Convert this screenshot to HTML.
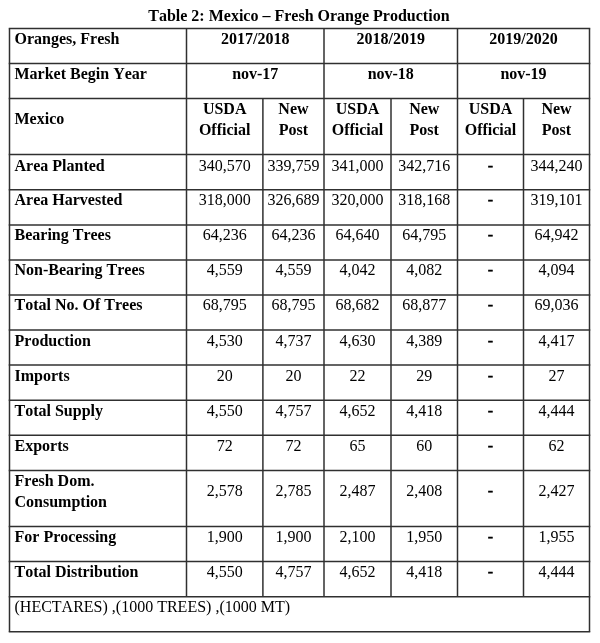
<!DOCTYPE html>
<html><head><meta charset="utf-8"><title>Table 2: Mexico – Fresh Orange Production</title>
<style>
html,body{margin:0;padding:0;background:#fff;}
body{width:600px;height:643px;overflow:hidden;}
svg{display:block;filter:grayscale(1) blur(0.3px);}
text{font-family:"Liberation Serif","Times New Roman",serif;font-size:16px;fill:#000;font-kerning:none;}
</style></head><body>
<svg width="600" height="643" viewBox="0 0 600 643">
<g stroke="#303030" stroke-width="1.5" fill="none"><line x1="8.75" y1="28.50" x2="590.25" y2="28.50"/><line x1="8.75" y1="63.50" x2="590.25" y2="63.50"/><line x1="8.75" y1="98.50" x2="590.25" y2="98.50"/><line x1="8.75" y1="154.50" x2="590.25" y2="154.50"/><line x1="8.75" y1="189.80" x2="590.25" y2="189.80"/><line x1="8.75" y1="224.90" x2="590.25" y2="224.90"/><line x1="8.75" y1="260.00" x2="590.25" y2="260.00"/><line x1="8.75" y1="295.00" x2="590.25" y2="295.00"/><line x1="8.75" y1="330.10" x2="590.25" y2="330.10"/><line x1="8.75" y1="365.10" x2="590.25" y2="365.10"/><line x1="8.75" y1="400.20" x2="590.25" y2="400.20"/><line x1="8.75" y1="435.30" x2="590.25" y2="435.30"/><line x1="8.75" y1="470.40" x2="590.25" y2="470.40"/><line x1="8.75" y1="526.60" x2="590.25" y2="526.60"/><line x1="8.75" y1="561.60" x2="590.25" y2="561.60"/><line x1="8.75" y1="596.80" x2="590.25" y2="596.80"/><line x1="8.75" y1="631.80" x2="590.25" y2="631.80"/><line x1="9.50" y1="28.50" x2="9.50" y2="631.80"/><line x1="186.50" y1="28.50" x2="186.50" y2="596.80"/><line x1="262.90" y1="98.50" x2="262.90" y2="596.80"/><line x1="324.00" y1="28.50" x2="324.00" y2="596.80"/><line x1="391.00" y1="98.50" x2="391.00" y2="596.80"/><line x1="457.50" y1="28.50" x2="457.50" y2="596.80"/><line x1="523.50" y1="98.50" x2="523.50" y2="596.80"/><line x1="589.50" y1="28.50" x2="589.50" y2="631.80"/></g>
<g><text x="298.90" y="21.00" font-weight="bold" text-anchor="middle">Table 2: Mexico – Fresh Orange Production</text><text x="14.50" y="43.80" font-weight="bold">Oranges, Fresh</text><text x="255.25" y="43.80" font-weight="bold" text-anchor="middle">2017/2018</text><text x="390.75" y="43.80" font-weight="bold" text-anchor="middle">2018/2019</text><text x="523.50" y="43.80" font-weight="bold" text-anchor="middle">2019/2020</text><text x="14.50" y="78.80" font-weight="bold">Market Begin Year</text><text x="255.25" y="78.80" font-weight="bold" text-anchor="middle">nov-17</text><text x="390.75" y="78.80" font-weight="bold" text-anchor="middle">nov-18</text><text x="523.50" y="78.80" font-weight="bold" text-anchor="middle">nov-19</text><text x="14.50" y="124.00" font-weight="bold">Mexico</text><text x="224.70" y="114.00" font-weight="bold" text-anchor="middle">USDA</text><text x="224.70" y="134.80" font-weight="bold" text-anchor="middle">Official</text><text x="293.45" y="114.00" font-weight="bold" text-anchor="middle">New</text><text x="293.45" y="134.80" font-weight="bold" text-anchor="middle">Post</text><text x="357.50" y="114.00" font-weight="bold" text-anchor="middle">USDA</text><text x="357.50" y="134.80" font-weight="bold" text-anchor="middle">Official</text><text x="424.25" y="114.00" font-weight="bold" text-anchor="middle">New</text><text x="424.25" y="134.80" font-weight="bold" text-anchor="middle">Post</text><text x="490.50" y="114.00" font-weight="bold" text-anchor="middle">USDA</text><text x="490.50" y="134.80" font-weight="bold" text-anchor="middle">Official</text><text x="556.50" y="114.00" font-weight="bold" text-anchor="middle">New</text><text x="556.50" y="134.80" font-weight="bold" text-anchor="middle">Post</text><text x="14.50" y="170.50" font-weight="bold">Area Planted</text><text x="224.70" y="170.50" text-anchor="middle">340,570</text><text x="293.45" y="170.50" text-anchor="middle">339,759</text><text x="357.50" y="170.50" text-anchor="middle">341,000</text><text x="424.25" y="170.50" text-anchor="middle">342,716</text><text x="490.50" y="170.50" stroke="#000" stroke-width="0.5" text-anchor="middle">-</text><text x="556.50" y="170.50" text-anchor="middle">344,240</text><text x="14.50" y="205.20" font-weight="bold">Area Harvested</text><text x="224.70" y="205.20" text-anchor="middle">318,000</text><text x="293.45" y="205.20" text-anchor="middle">326,689</text><text x="357.50" y="205.20" text-anchor="middle">320,000</text><text x="424.25" y="205.20" text-anchor="middle">318,168</text><text x="490.50" y="205.20" stroke="#000" stroke-width="0.5" text-anchor="middle">-</text><text x="556.50" y="205.20" text-anchor="middle">319,101</text><text x="14.50" y="240.30" font-weight="bold">Bearing Trees</text><text x="224.70" y="240.30" text-anchor="middle">64,236</text><text x="293.45" y="240.30" text-anchor="middle">64,236</text><text x="357.50" y="240.30" text-anchor="middle">64,640</text><text x="424.25" y="240.30" text-anchor="middle">64,795</text><text x="490.50" y="240.30" stroke="#000" stroke-width="0.5" text-anchor="middle">-</text><text x="556.50" y="240.30" text-anchor="middle">64,942</text><text x="14.50" y="275.40" font-weight="bold">Non-Bearing Trees</text><text x="224.70" y="275.40" text-anchor="middle">4,559</text><text x="293.45" y="275.40" text-anchor="middle">4,559</text><text x="357.50" y="275.40" text-anchor="middle">4,042</text><text x="424.25" y="275.40" text-anchor="middle">4,082</text><text x="490.50" y="275.40" stroke="#000" stroke-width="0.5" text-anchor="middle">-</text><text x="556.50" y="275.40" text-anchor="middle">4,094</text><text x="14.50" y="310.40" font-weight="bold">Total No. Of Trees</text><text x="224.70" y="310.40" text-anchor="middle">68,795</text><text x="293.45" y="310.40" text-anchor="middle">68,795</text><text x="357.50" y="310.40" text-anchor="middle">68,682</text><text x="424.25" y="310.40" text-anchor="middle">68,877</text><text x="490.50" y="310.40" stroke="#000" stroke-width="0.5" text-anchor="middle">-</text><text x="556.50" y="310.40" text-anchor="middle">69,036</text><text x="14.50" y="345.50" font-weight="bold">Production</text><text x="224.70" y="345.50" text-anchor="middle">4,530</text><text x="293.45" y="345.50" text-anchor="middle">4,737</text><text x="357.50" y="345.50" text-anchor="middle">4,630</text><text x="424.25" y="345.50" text-anchor="middle">4,389</text><text x="490.50" y="345.50" stroke="#000" stroke-width="0.5" text-anchor="middle">-</text><text x="556.50" y="345.50" text-anchor="middle">4,417</text><text x="14.50" y="380.50" font-weight="bold">Imports</text><text x="224.70" y="380.50" text-anchor="middle">20</text><text x="293.45" y="380.50" text-anchor="middle">20</text><text x="357.50" y="380.50" text-anchor="middle">22</text><text x="424.25" y="380.50" text-anchor="middle">29</text><text x="490.50" y="380.50" stroke="#000" stroke-width="0.5" text-anchor="middle">-</text><text x="556.50" y="380.50" text-anchor="middle">27</text><text x="14.50" y="415.60" font-weight="bold">Total Supply</text><text x="224.70" y="415.60" text-anchor="middle">4,550</text><text x="293.45" y="415.60" text-anchor="middle">4,757</text><text x="357.50" y="415.60" text-anchor="middle">4,652</text><text x="424.25" y="415.60" text-anchor="middle">4,418</text><text x="490.50" y="415.60" stroke="#000" stroke-width="0.5" text-anchor="middle">-</text><text x="556.50" y="415.60" text-anchor="middle">4,444</text><text x="14.50" y="450.70" font-weight="bold">Exports</text><text x="224.70" y="450.70" text-anchor="middle">72</text><text x="293.45" y="450.70" text-anchor="middle">72</text><text x="357.50" y="450.70" text-anchor="middle">65</text><text x="424.25" y="450.70" text-anchor="middle">60</text><text x="490.50" y="450.70" stroke="#000" stroke-width="0.5" text-anchor="middle">-</text><text x="556.50" y="450.70" text-anchor="middle">62</text><text x="14.50" y="485.80" font-weight="bold">Fresh Dom.</text><text x="14.50" y="506.60" font-weight="bold">Consumption</text><text x="224.70" y="496.30" text-anchor="middle">2,578</text><text x="293.45" y="496.30" text-anchor="middle">2,785</text><text x="357.50" y="496.30" text-anchor="middle">2,487</text><text x="424.25" y="496.30" text-anchor="middle">2,408</text><text x="490.50" y="496.30" stroke="#000" stroke-width="0.5" text-anchor="middle">-</text><text x="556.50" y="496.30" text-anchor="middle">2,427</text><text x="14.50" y="542.00" font-weight="bold">For Processing</text><text x="224.70" y="542.00" text-anchor="middle">1,900</text><text x="293.45" y="542.00" text-anchor="middle">1,900</text><text x="357.50" y="542.00" text-anchor="middle">2,100</text><text x="424.25" y="542.00" text-anchor="middle">1,950</text><text x="490.50" y="542.00" stroke="#000" stroke-width="0.5" text-anchor="middle">-</text><text x="556.50" y="542.00" text-anchor="middle">1,955</text><text x="14.50" y="577.00" font-weight="bold">Total Distribution</text><text x="224.70" y="577.00" text-anchor="middle">4,550</text><text x="293.45" y="577.00" text-anchor="middle">4,757</text><text x="357.50" y="577.00" text-anchor="middle">4,652</text><text x="424.25" y="577.00" text-anchor="middle">4,418</text><text x="490.50" y="577.00" stroke="#000" stroke-width="0.5" text-anchor="middle">-</text><text x="556.50" y="577.00" text-anchor="middle">4,444</text><text x="14.50" y="612.10">(HECTARES) ,(1000 TREES) ,(1000 MT)</text></g>
</svg>
</body></html>
